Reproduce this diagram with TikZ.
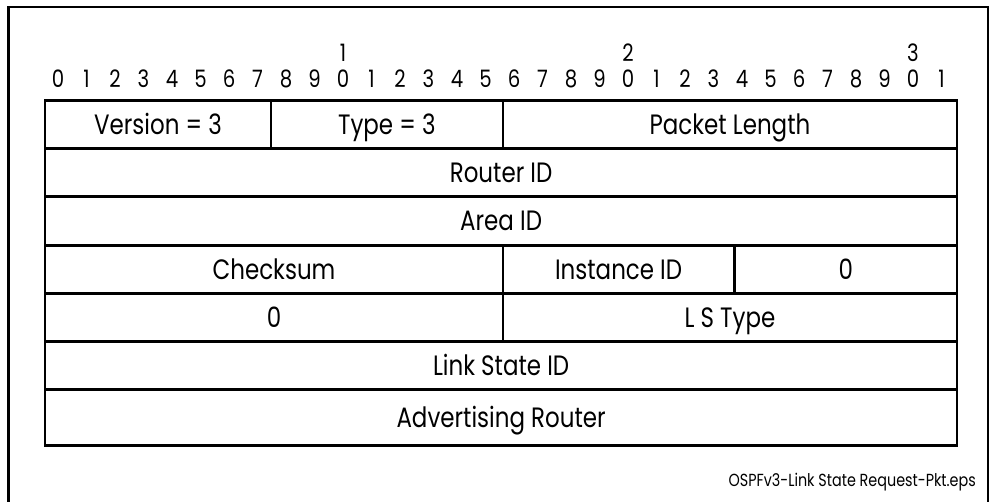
\documentclass[tikz,border=0pt]{standalone}
\usepackage{fontspec}
\setmainfont{Poppins}[FakeStretch=0.82]
\usetikzlibrary{math}

\tikzset{
  field/.style={draw, line width=2.7pt, anchor=north west, inner sep=0pt,
    text height=19.6pt, text depth=0pt, font=\fontsize{28}{32}\selectfont},
  bitnum/.style={inner sep=0pt, text height=16.8pt, text depth=0pt,
    font=\fontsize{24}{28}\selectfont}
}

\begin{document}
\begin{tikzpicture}[x=1pt, y=-1pt]
\useasboundingbox (0,0) rectangle (989,502);
\tikzmath{\bw = 28.5;}

\draw[line width=2.7pt] (8.5,502) -- (8.5,7) -- (988.5,7) -- (988.5,502);

% bit numbers
\foreach \i in {0,...,31}{
  \pgfmathtruncatemacro{\d}{mod(\i,10)}
  \node[bitnum] (bit\i) at (58+\i*\bw, 79.5) {\d};
}
\foreach \t in {1,2,3}
  \node[bitnum] (tens\t) at (58+\t*10*\bw, 53.5) {\t};

% header fields
\node[field, minimum width=225.75pt, minimum height=48pt] (version) at (43.75,99) {Version = 3};
\node[field, minimum width=232pt, minimum height=48pt] (type) at (269.5,99) {Type = 3};
\node[field, minimum width=454.25pt, minimum height=48pt] (pktlen) at (501.5,99) {Packet Length};
\node[field, minimum width=912pt, minimum height=48.5pt] (routerid) at (43.75,147) {Router ID};
\node[field, minimum width=912pt, minimum height=48.5pt] (areaid) at (43.75,195.5) {Area ID};
\node[field, minimum width=457.75pt, minimum height=48.5pt] (checksum) at (43.75,244) {Checksum};
\node[field, minimum width=231.5pt, minimum height=48.5pt] (instance) at (501.5,244) {Instance ID};
\node[field, minimum width=222.75pt, minimum height=48.5pt] (zeroa) at (733,244) {0};

% request entry
\node[field, minimum width=457.75pt, minimum height=48pt] (zerob) at (43.75,292) {0};
\node[field, minimum width=454.25pt, minimum height=48pt] (lstype) at (501.5,292) {L S Type};
\node[field, minimum width=912pt, minimum height=48.5pt] (lsid) at (43.75,340) {Link State ID};
\node[field, minimum width=912pt, minimum height=55.5pt] (advrtr) at (43.75,388.5) {Advertising Router};

\node[inner sep=0pt, anchor=base east, font=\fontsize{17.5}{20}\selectfont] (filename) at (976,487) {OSPFv3-Link State Request-Pkt.eps};

\end{tikzpicture}
\end{document}
